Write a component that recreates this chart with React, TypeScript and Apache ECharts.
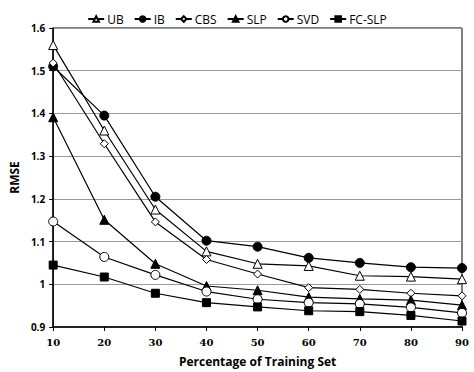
import React, { useEffect, useRef } from "react";
import * as echarts from "echarts";

const xValues = [10, 20, 30, 40, 50, 60, 70, 80, 90];
const ub = [1.56, 1.36, 1.175, 1.077, 1.048, 1.043, 1.02, 1.018, 1.012];
const ib = [1.51, 1.395, 1.205, 1.102, 1.088, 1.062, 1.05, 1.04, 1.038];
const cbs = [1.518, 1.329, 1.146, 1.058, 1.024, 0.992, 0.988, 0.979, 0.973];
const slp = [1.391, 1.151, 1.048, 0.996, 0.986, 0.97, 0.966, 0.963, 0.951];
const svd = [1.147, 1.064, 1.022, 0.983, 0.965, 0.957, 0.954, 0.946, 0.933];
const fcslp = [1.045, 1.017, 0.979, 0.957, 0.947, 0.938, 0.936, 0.927, 0.914];

const seriesDefs = [
  { name: "UB", data: ub, symbol: "triangle", filled: false, size: 9 },
  { name: "IB", data: ib, symbol: "circle", filled: true, size: 9 },
  { name: "CBS", data: cbs, symbol: "diamond", filled: false, size: 8 },
  { name: "SLP", data: slp, symbol: "triangle", filled: true, size: 9 },
  { name: "SVD", data: svd, symbol: "circle", filled: false, size: 9 },
  { name: "FC-SLP", data: fcslp, symbol: "rect", filled: true, size: 8 },
];

export default function App() {
  const ref = useRef<HTMLDivElement>(null);
  useEffect(() => {
    if (!ref.current) return;
    const chart = echarts.init(ref.current, null, { renderer: "svg" });
    chart.setOption({
      animation: false,
      backgroundColor: "#fff",
      legend: {
        top: 8,
        left: "center",
        itemWidth: 16,
        itemHeight: 7,
        itemGap: 10,
        textStyle: { fontFamily: "Open Sans", fontSize: 12, color: "#000", padding: [0, 0, 0, -2] },
        data: seriesDefs.map((s) => s.name),
      },
      grid: {
        left: 42,
        right: 12,
        top: 28,
        bottom: 42,
        show: true,
        borderColor: "#000",
        borderWidth: 1,
      },
      xAxis: {
        type: "value",
        min: 10,
        max: 90,
        interval: 10,
        name: "Percentage of Training Set",
        nameLocation: "middle",
        nameGap: 28,
        nameTextStyle: { fontFamily: "Open Sans", fontWeight: "bold", fontSize: 12, color: "#000" },
        axisLine: { lineStyle: { color: "#000", width: 1.5 } },
        axisTick: { show: true, length: 4, lineStyle: { color: "#000" } },
        axisLabel: { fontFamily: "DejaVu Serif", fontWeight: "bold", fontSize: 10, color: "#000", margin: 10 },
        splitLine: { show: false },
      },
      yAxis: {
        type: "value",
        min: 0.9,
        max: 1.6,
        interval: 0.1,
        name: "RMSE",
        nameLocation: "middle",
        nameGap: 28,
        nameRotate: 90,
        nameTextStyle: { fontFamily: "Open Sans", fontWeight: "bold", fontSize: 12, color: "#000" },
        axisLine: { show: true, lineStyle: { color: "#000", width: 1.5 } },
        axisTick: { show: true, length: 4, lineStyle: { color: "#000" } },
        axisLabel: {
          fontFamily: "Open Sans",
          fontWeight: "bold",
          fontSize: 10,
          color: "#000",
          margin: 8,
          formatter: (v: number) => String(Math.round(v * 10) / 10),
        },
        splitLine: { show: true, lineStyle: { color: "#999", width: 1 } },
      },
      series: seriesDefs.map((s) => ({
        name: s.name,
        type: "line",
        data: xValues.map((x, i) => [x, s.data[i]]),
        symbol: s.symbol,
        symbolSize: s.size,
        showAllSymbol: true,
        lineStyle: { color: "#000", width: 1.2 },
        itemStyle: {
          color: s.filled ? "#000" : "#fff",
          borderColor: "#000",
          borderWidth: 1,
        },
        emphasis: { disabled: true },
      })),
    });
    return () => chart.dispose();
  }, []);
  return (
    <div
      ref={ref}
      style={{ position: "fixed", left: 0, top: 0, width: 474, height: 372, background: "#fff" }}
    />
  );
}
